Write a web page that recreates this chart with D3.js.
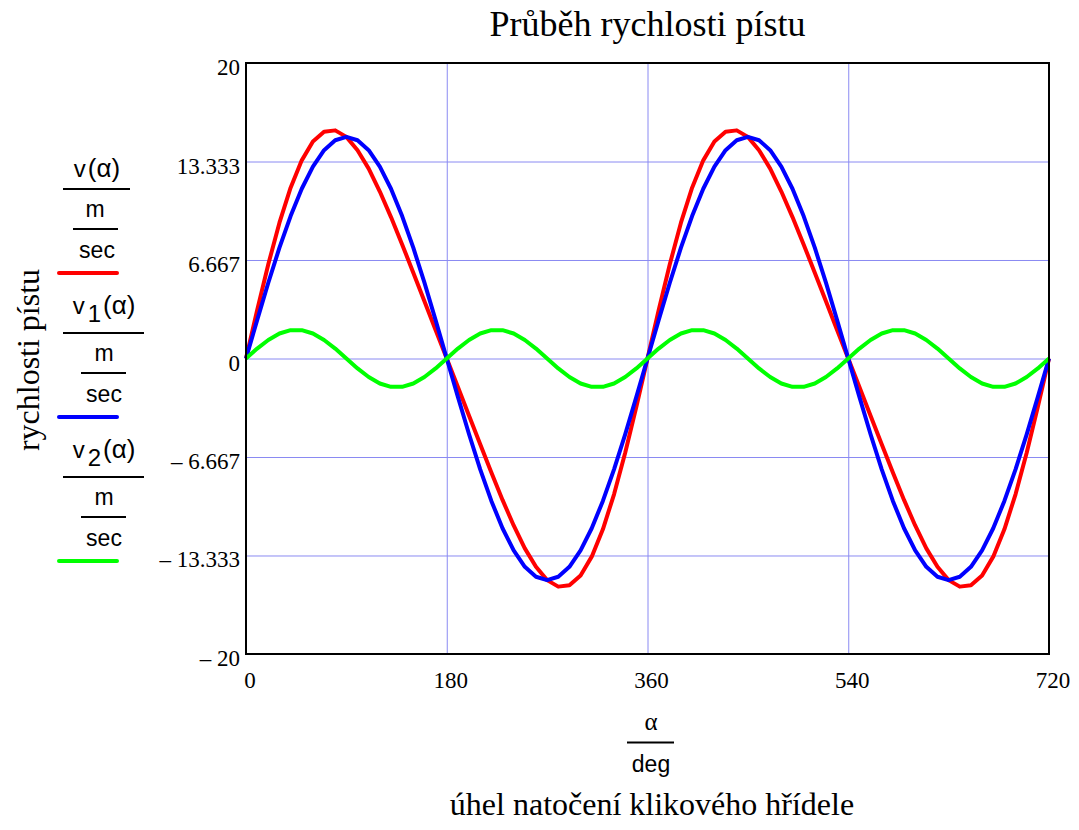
<!DOCTYPE html>
<html><head><meta charset="utf-8">
<script src="https://cdn.jsdelivr.net/npm/d3@7"></script>
<style>body{margin:0;background:#fff} svg{display:block}</style>
</head><body><svg id="c" width="1079" height="830"></svg>
<script>
// ---- data ----
const alphaDeg = [0,10,20,30,40,50,60,70,80,90,100,110,120,130,140,150,160,170,180,
  190,200,210,220,230,240,250,260,270,280,290,300,310,320,330,340,350,360,
  370,380,390,400,410,420,430,440,450,460,470,480,490,500,510,520,530,540,
  550,560,570,580,590,600,610,620,630,640,650,660,670,680,690,700,710,720];
const vTotal = [0,3.27,6.38,9.19,11.56,13.41,14.68,15.35,15.44,15.0,14.10,12.85,11.30,9.57,7.72,5.81,3.88,1.93,0,
  -1.93,-3.88,-5.81,-7.72,-9.57,-11.30,-12.85,-14.10,-15.0,-15.44,-15.35,-14.68,-13.41,-11.56,-9.19,-6.38,-3.27,0,
  3.27,6.38,9.19,11.56,13.41,14.68,15.35,15.44,15.0,14.10,12.85,11.30,9.57,7.72,5.81,3.88,1.93,0,
  -1.93,-3.88,-5.81,-7.72,-9.57,-11.30,-12.85,-14.10,-15.0,-15.44,-15.35,-14.68,-13.41,-11.56,-9.19,-6.38,-3.27,0];
const vFirst = [0,2.60,5.13,7.50,9.64,11.49,12.99,14.10,14.77,15.0,14.77,14.10,12.99,11.49,9.64,7.50,5.13,2.60,0,
  -2.60,-5.13,-7.50,-9.64,-11.49,-12.99,-14.10,-14.77,-15.0,-14.77,-14.10,-12.99,-11.49,-9.64,-7.50,-5.13,-2.60,0,
  2.60,5.13,7.50,9.64,11.49,12.99,14.10,14.77,15.0,14.77,14.10,12.99,11.49,9.64,7.50,5.13,2.60,0,
  -2.60,-5.13,-7.50,-9.64,-11.49,-12.99,-14.10,-14.77,-15.0,-14.77,-14.10,-12.99,-11.49,-9.64,-7.50,-5.13,-2.60,0];
const vSecond = [0,0.67,1.25,1.69,1.92,1.92,1.69,1.25,0.67,0,-0.67,-1.25,-1.69,-1.92,-1.92,-1.69,-1.25,-0.67,0,
  0.67,1.25,1.69,1.92,1.92,1.69,1.25,0.67,0,-0.67,-1.25,-1.69,-1.92,-1.92,-1.69,-1.25,-0.67,0,
  0.67,1.25,1.69,1.92,1.92,1.69,1.25,0.67,0,-0.67,-1.25,-1.69,-1.92,-1.92,-1.69,-1.25,-0.67,0,
  0.67,1.25,1.69,1.92,1.92,1.69,1.25,0.67,0,-0.67,-1.25,-1.69,-1.92,-1.92,-1.69,-1.25,-0.67,0];
const xTicks = [0,180,360,540,720];
const xTickLabels = ["0","180","360","540","720"];
const yTicks = [-20,-13.333,-6.667,0,6.667,13.333,20];
const yTickLabels = ["\u2013 20","\u2013 13.333","\u2013 6.667","0","6.667","13.333","20"];
const seriesNames = ["v", "v", "v"];
const seriesSubs = ["", "1", "2"];
const seriesColors = ["#ff0000", "#0000ff", "#00ff00"];
const titleText = "Průběh rychlosti pístu";
const yTitle = "rychlosti pístu";
const xTitle = "úhel natočení klikového hřídele";

// ---- drawing ----
const svg = d3.select("#c");
const L = 246, R = 1049, T = 63, B = 654;
const x = d3.scaleLinear().domain([0, 720]).range([L, R]);
const y = d3.scaleLinear().domain([-20, 20]).range([B, T]);
const serif = "'Liberation Serif','Times New Roman',serif";
const sans = "'Liberation Sans',Arial,sans-serif";

// grid
svg.append("g").attr("transform", `translate(0,${B})`)
  .call(d3.axisBottom(x).tickValues(xTicks.slice(1, -1)).tickSize(-(B - T)).tickFormat(""))
  .call(g => g.select(".domain").remove())
  .call(g => g.selectAll("line").attr("stroke", "#8a8af2").attr("stroke-width", 1));
svg.append("g").attr("transform", `translate(${L},0)`)
  .call(d3.axisLeft(y).tickValues(yTicks.slice(1, -1)).tickSize(-(R - L)).tickFormat(""))
  .call(g => g.select(".domain").remove())
  .call(g => g.selectAll("line").attr("stroke", "#8a8af2").attr("stroke-width", 1));

// curves
const series = [vTotal, vFirst, vSecond];
const line = d3.line().x((d, i) => x(alphaDeg[i])).y(d => y(d));
series.forEach((s, k) => {
  svg.append("path").datum(s).attr("d", line)
    .attr("fill", "none").attr("stroke", seriesColors[k]).attr("stroke-width", 4)
    .attr("stroke-linejoin", "round");
});

// frame
svg.append("rect").attr("x", L).attr("y", T).attr("width", R - L).attr("height", B - T)
  .attr("fill", "none").attr("stroke", "#000").attr("stroke-width", 2);

// tick labels
svg.append("g").selectAll("text").data(yTicks).join("text")
  .attr("x", L - 6).attr("y", d => y(d) + 12)
  .attr("text-anchor", "end").style("font-family", serif).style("font-size", "23px")
  .style("white-space", "pre")
  .text((d, i) => yTickLabels[i]);
svg.append("g").selectAll("text").data(xTicks).join("text")
  .attr("x", d => x(d) + 4).attr("y", 688)
  .attr("text-anchor", "middle").style("font-family", serif).style("font-size", "23px")
  .text((d, i) => xTickLabels[i]);

// title
svg.append("text").attr("x", (L + R) / 2).attr("y", 36).attr("text-anchor", "middle")
  .style("font-family", serif).style("font-size", "36px").text(titleText);

// y axis title
svg.append("text").attr("transform", "translate(39,360) rotate(-90)").attr("text-anchor", "middle")
  .style("font-family", serif).style("font-size", "32px").text(yTitle);

// x axis fraction + title
svg.append("text").attr("x", 651).attr("y", 730).attr("text-anchor", "middle")
  .style("font-family", serif).style("font-size", "25px").text("α");
svg.append("line").attr("x1", 627).attr("x2", 674).attr("y1", 742.5).attr("y2", 742.5)
  .attr("stroke", "#000").attr("stroke-width", 2);
svg.append("text").attr("x", 651).attr("y", 772).attr("text-anchor", "middle")
  .style("font-family", sans).style("font-size", "23px").text("deg");
svg.append("text").attr("x", 652).attr("y", 815).attr("text-anchor", "middle")
  .style("font-family", serif).style("font-size", "32px").text(xTitle);

// legend
const lg = svg.append("g").selectAll("g").data(seriesColors).join("g")
  .attr("transform", (d, i) => `translate(0,${i * 144})`);
lg.each(function (c, i) {
  const g = d3.select(this);
  const wide = i > 0;
  const cx = wide ? 104 : 97;
  const t = g.append("text").attr("x", cx).attr("y", wide ? 170 : 177).attr("text-anchor", "middle")
    .style("font-family", sans).style("font-size", "24px");
  t.append("tspan").text(seriesNames[i]);
  if (seriesSubs[i]) t.append("tspan").attr("dx", 3).attr("dy", 8).style("font-size", "24px").text(seriesSubs[i]);
  t.append("tspan").attr("dx", 2).attr("dy", seriesSubs[i] ? -8 : 0).style("font-size", "26px").text("(α)");
  g.append("line").attr("x1", 63).attr("x2", wide ? 144 : 130).attr("y1", 189).attr("y2", 189)
    .attr("stroke", "#000").attr("stroke-width", 2);
  g.append("text").attr("x", wide ? 104 : 95).attr("y", 217).attr("text-anchor", "middle")
    .style("font-family", sans).style("font-size", "23px").text("m");
  g.append("line").attr("x1", wide ? 81 : 73).attr("x2", wide ? 126 : 118).attr("y1", 229).attr("y2", 229)
    .attr("stroke", "#000").attr("stroke-width", 2);
  g.append("text").attr("x", wide ? 104 : 97).attr("y", 258).attr("text-anchor", "middle")
    .style("font-family", sans).style("font-size", "23px").text("sec");
  g.append("line").attr("x1", 59).attr("x2", 117).attr("y1", 273).attr("y2", 273)
    .attr("stroke", c).attr("stroke-width", 4).attr("stroke-linecap", "round");
});
</script></body></html>
